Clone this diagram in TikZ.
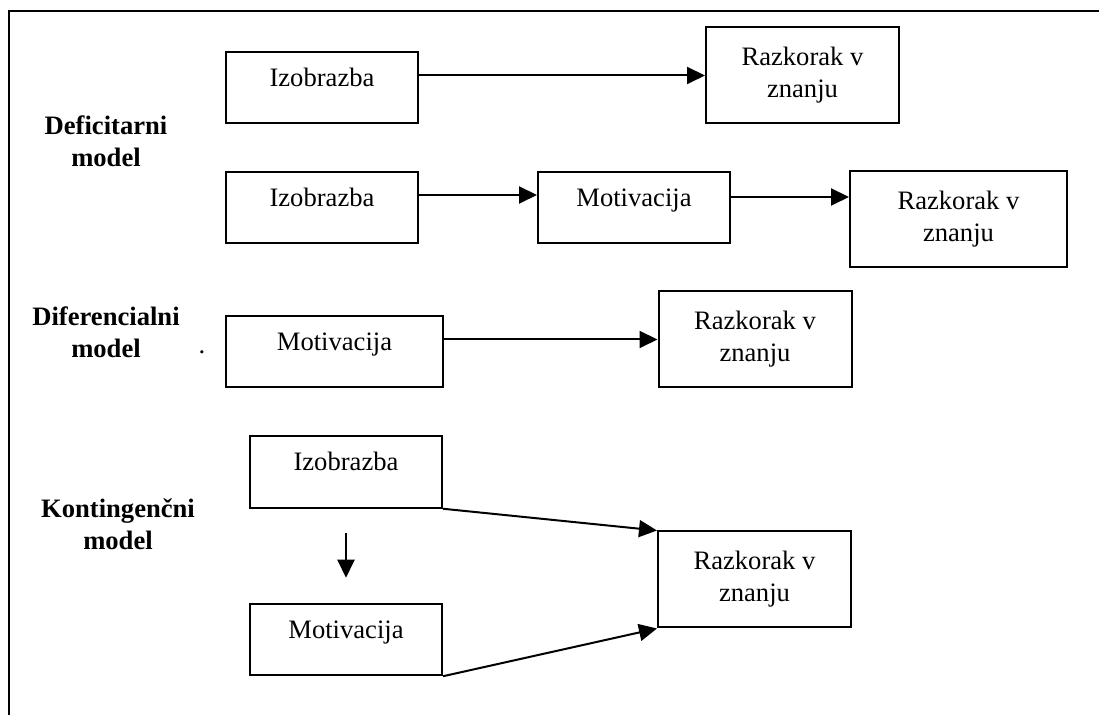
\documentclass[tikz,border=0pt]{standalone}
\usepackage{fontspec}
\setmainfont{Liberation Serif}
\usetikzlibrary{arrows.meta}

\begin{document}
\begin{tikzpicture}[x=0.5pt, y=-0.5pt, font=\fontsize{13.3}{16}\selectfont,
	box/.style={shape=rectangle, draw, line width=1pt, align=center, inner sep=0pt},
	onebox/.style={box, minimum width=96pt, minimum height=35.75pt, text height=9.3pt, text depth=10.5pt},
	gapbox/.style={box, minimum width=96.5pt, minimum height=48pt},
	model/.style={align=center, font=\fontsize{13.3}{16}\selectfont\bfseries},
	arr/.style={-{Triangle[length=9pt, width=8.5pt]}, line width=1pt}]
	\useasboundingbox (0, 0) rectangle (1099, 715);
	% Frame, boxes and arrows:
	\draw[line width=1pt] (8.7, 730) |- (1110, 11.3);
	\node[model] (Def) at (106, 141.5){Deficitarni\\model};
	\node[model] (Dif) at (106, 332){Diferencialni\\model};
	\node[model] (Kon) at (118, 524){Kontingenčni\\model};
	\node[anchor=base, inner sep=0pt] (Pika) at (202, 354){.};
	\node[onebox] (Iz1) at (322, 87.5){Izobrazba};
	\node[gapbox] (Rz1) at (802.5, 75.5){Razkorak v\\znanju};
	\draw[arr] (Iz1.east |- Rz1.west) -- (Rz1.west);
	\node[onebox] (Iz2) at (322, 207.5){Izobrazba};
	\node[onebox] (Mo2) at (634, 207.5){Motivacija};
	\node[gapbox, minimum width=108.5pt] (Rz2) at (958.5, 219.5){Razkorak v\\znanju};
	\draw[arr] ([yshift=6.25pt]Iz2.east) -- ([yshift=6.25pt]Mo2.west);
	\draw[arr] ([yshift=5.25pt]Mo2.east) -- ([yshift=5.25pt]Mo2.east -| Rz2.west);
	\node[onebox, minimum width=108.5pt] (Mo3) at (334.5, 351.5){Motivacija};
	\node[gapbox] (Rz3) at (755, 339.5){Razkorak v\\znanju};
	\draw[arr] (Mo3.east |- Rz3.west) -- (Rz3.west);
	\node[onebox] (Iz4) at (346, 472){Izobrazba};
	\node[onebox] (Mo4) at (346, 639.5){Motivacija};
	\node[gapbox] (Rz4) at (754.5, 579.5){Razkorak v\\znanju};
	\draw[arr] ([yshift=-12pt]Iz4.south) -- ([yshift=12.5pt]Mo4.north);
	\draw[arr] (Iz4.south east) -- (Rz4.north west);
	\draw[arr] (Mo4.south east) -- (Rz4.south west);
\end{tikzpicture}
\end{document}
